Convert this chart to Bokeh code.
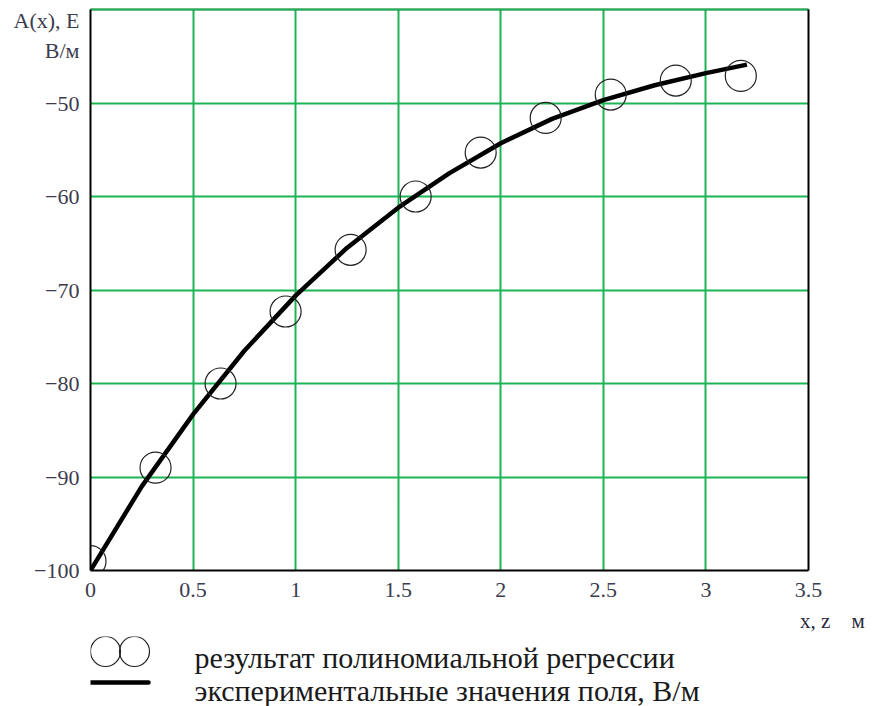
from bokeh.plotting import figure
from bokeh.models import Range1d, FixedTicker, LinearAxis
from bokeh.models import Label
from bokeh.layouts import column
from bokeh.embed import file_html
from bokeh.resources import INLINE

# --- data ---
reg_x = [0.0, 0.317, 0.634, 0.951, 1.268, 1.585, 1.902, 2.219, 2.536, 2.853, 3.17]
reg_y = [-99.0, -89.0, -80.0, -72.3, -65.7, -60.0, -55.3, -51.6, -49.1, -47.6, -47.1]

curve_x = [0.0, 0.25, 0.5, 0.75, 1.0, 1.25, 1.5, 1.75, 2.0, 2.25, 2.5, 2.75, 3.0, 3.2]
curve_y = [-100.0, -91.0, -83.3, -76.5, -70.6, -65.5, -61.2, -57.5, -54.3, -51.7, -49.7, -48.1, -46.8, -45.9]

x_ticks = [0, 0.5, 1, 1.5, 2, 2.5, 3, 3.5]
x_tick_labels = ["0", "0.5", "1", "1.5", "2", "2.5", "3", "3.5"]
y_ticks = [-100, -90, -80, -70, -60, -50, -40]
y_tick_labels = ["\u2212100", "\u221290", "\u221280", "\u221270", "\u221260", "\u221250", ""]

NB = "\u00a0"
y_title = ["A(x), E", "В/м"]
y_title_pos = [-41.18, -44.39]
x_title = NB * 13 + "x," + NB + "z" + NB * 4 + "м"
x_title_pos = 3.45
legend_labels = ["результат полиномиальной регрессии",
                 "экспериментальные значения поля, В/м"]

FONT = "Liberation Serif"
GRID = "#1db454"
TICKC = "#3c3c4e"

p = figure(width=872, height=636, output_backend="svg", toolbar_location=None,
           x_range=Range1d(0, 3.5), y_range=Range1d(-100, -40),
           min_border_left=90, min_border_right=64, min_border_top=9,
           min_border_bottom=66)
p.outline_line_color = None
p.background_fill_color = "white"
p.border_fill_color = "white"

xa = p.xaxis[0]
ya = p.yaxis[0]
xa.ticker = FixedTicker(ticks=x_ticks)
xa.major_label_overrides = {t: l for t, l in zip(x_ticks, x_tick_labels)}
ya.ticker = FixedTicker(ticks=y_ticks[:-1] + y_title_pos)
ya_over = {t: l for t, l in zip(y_ticks, y_tick_labels)}
ya_over.update({t: l for t, l in zip(y_title_pos, y_title)})
ya.major_label_overrides = ya_over

for ax in (xa, ya):
    ax.major_tick_in = 0
    ax.major_tick_out = 0
    ax.minor_tick_in = 0
    ax.minor_tick_out = 0
    ax.axis_line_color = "black"
    ax.axis_line_width = 2
    ax.major_label_text_font = FONT
    ax.major_label_text_font_size = "22px"
    ax.major_label_text_color = TICKC
xa.major_label_standoff = 12
ya.major_label_standoff = 11

# second bottom axis carries the x-axis title
xt = LinearAxis(ticker=FixedTicker(ticks=[x_title_pos]),
                major_label_overrides={x_title_pos: x_title},
                axis_line_color=None, major_tick_in=0, major_tick_out=0,
                minor_tick_in=0, minor_tick_out=0,
                major_label_text_font=FONT, major_label_text_font_size="21px",
                major_label_text_color="#2a2a3a", major_label_standoff=9)
p.add_layout(xt, "below")

# frame edges: right and top black; an extra green rule a little above the top
fr_right = LinearAxis(ticker=FixedTicker(ticks=[]), axis_line_color="black",
                      axis_line_width=2, major_tick_in=0, major_tick_out=0,
                      minor_tick_in=0, minor_tick_out=0,
                      major_label_text_font_size="0px")
p.add_layout(fr_right, "right")
fr_top = LinearAxis(ticker=FixedTicker(ticks=[]), axis_line_color="black",
                    axis_line_width=1.5, major_tick_in=0, major_tick_out=7,
                    major_tick_line_color=None, minor_tick_in=0,
                    minor_tick_out=0, major_label_text_font_size="0px",
                    major_label_standoff=0)
p.add_layout(fr_top, "above")
top_rule = LinearAxis(ticker=FixedTicker(ticks=[]), axis_line_color=GRID,
                      axis_line_width=2, major_tick_in=0, major_tick_out=0,
                      minor_tick_in=0, minor_tick_out=0,
                      major_label_text_font_size="0px", major_label_standoff=0)
p.add_layout(top_rule, "above")

p.xgrid.ticker = FixedTicker(ticks=x_ticks)
p.ygrid.ticker = FixedTicker(ticks=y_ticks)
for g in (p.xgrid[0], p.ygrid[0]):
    g.grid_line_color = GRID
    g.grid_line_width = 2

p.line(curve_x, curve_y, line_color="black", line_width=4.5)
p.scatter(reg_x, reg_y, marker="circle", size=31, fill_color=None,
          line_color="#222222", line_width=1.2)

# legend figure below (data coordinates equal page pixels)
lg = figure(width=872, height=70, output_backend="svg", toolbar_location=None,
            x_range=Range1d(90, 808), y_range=Range1d(706, 636),
            min_border_left=90, min_border_right=64, min_border_top=0,
            min_border_bottom=0)
lg.axis.visible = False
lg.grid.visible = False
lg.outline_line_color = None
lg.scatter([105, 134], [651, 651], marker="circle", size=30, fill_color=None,
           line_color="#222222", line_width=1.2)
lg.line([90, 148], [682, 682], line_color="black", line_width=4.5,
        line_cap="round")
lg.add_layout(Label(x=194, y=657, text=legend_labels[0], text_font=FONT,
                    text_font_size="30px", text_color="#1a1a1a",
                    text_baseline="alphabetic"))
lg.add_layout(Label(x=194, y=690, text=legend_labels[1], text_font=FONT,
                    text_font_size="30px", text_color="#1a1a1a",
                    text_baseline="alphabetic"))

layout = column(p, lg, spacing=0)
open("out.html", "w").write(file_html(layout, INLINE))
